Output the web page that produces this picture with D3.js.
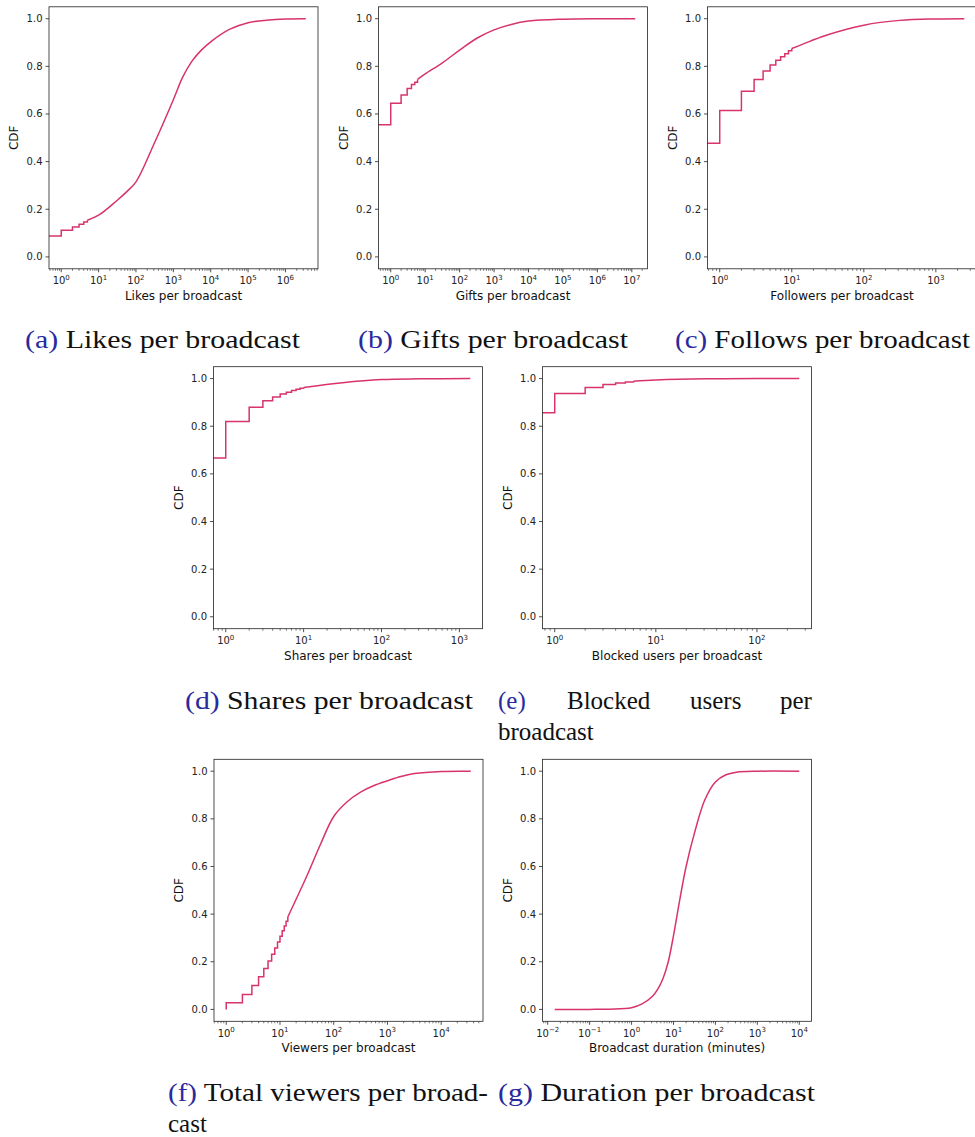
<!DOCTYPE html>
<html>
<head>
<meta charset="utf-8">
<script src="https://cdn.jsdelivr.net/npm/d3@7"></script>
<style>
body { margin: 0; background: #fff; }
svg { display: block; overflow: hidden; }
</style>
</head>
<body>
<svg width="975" height="1137"></svg>
<script>
// CDF points. x = 0 rows hold P(X = 0) (drawn from the left edge)
const likesSteps = [[0,0.088],[1,0.112],[2,0.126],[3,0.137],[4,0.147],[5,0.154]];
const likesCurve = [[5,0.154],[10,0.175],[31.6,0.238],[56,0.273],[100,0.315],[316,0.48],[1000,0.66],
  [1780,0.755],[3160,0.822],[5620,0.868],[1e4,0.903],[3.16e4,0.955],[1e5,0.983],[3.16e5,0.994],[1e6,0.999],[3.5e6,1]];

const giftsSteps = [[0,0.555],[1,0.645],[2,0.68],[3,0.707],[4,0.724],[5,0.733],[6,0.745]];
const giftsCurve = [[6,0.745],[10,0.768],[31.6,0.815],[100,0.868],[316,0.918],[1000,0.953],[3160,0.976],
  [1e4,0.99],[1e5,0.998],[1e6,1],[1.26e7,1]];

const followsSteps = [[0,0.477],[1,0.615],[2,0.695],[3,0.745],[4,0.78],[5,0.806],[6,0.826],[7,0.84],[8,0.853],[9,0.865],[10,0.875]];
const followsCurve = [[10,0.875],[17.8,0.905],[31.6,0.933],[100,0.973],[316,0.993],[1000,0.999],[2480,1]];

const sharesSteps = [[0,0.667],[1,0.82],[2,0.88],[3,0.907],[4,0.923],[5,0.935],[6,0.943],[7,0.95],[8,0.955],[9,0.96],[10,0.963]];
const sharesCurve = [[10,0.963],[31.6,0.983],[100,0.996],[316,0.999],[1380,1]];

const blockedSteps = [[0,0.857],[1,0.937],[2,0.963],[3,0.975],[4,0.982],[5,0.986],[6,0.989]];
const blockedCurve = [[6,0.989],[10,0.994],[31.6,0.999],[100,1],[262,1]];

const viewersSteps = [[1,0],[1,0.028],[2,0.062],[3,0.1],[4,0.137],[5,0.172],[6,0.203],[7,0.232],[8,0.258],
  [9,0.283],[10,0.307],[11,0.33],[12,0.35],[13,0.37],[14,0.388]];
const viewersCurve = [[14,0.388],[31.6,0.56],[56,0.69],[100,0.81],[178,0.872],[316,0.912],[562,0.94],
  [1000,0.96],[1780,0.978],[3160,0.99],[1e4,0.999],[3.55e4,1]];

const durationSteps = [];
const durationCurve = [[0.0147,0],[0.1,0],[0.3,0.001],[1,0.007],[1.78,0.023],[3.16,0.055],[4.22,0.085],
  [5.62,0.13],[7.5,0.2],[10,0.31],[14.1,0.46],[20,0.6],[31.6,0.74],[56,0.88],[100,0.955],[178,0.985],
  [316,0.996],[1000,1],[1e4,1]];

const yTicks = [0, 0.2, 0.4, 0.6, 0.8, 1.0];

// layout: one entry per subplot
const panels = [
  {steps: likesSteps,   curve: likesCurve,    xlabel: 'Likes per broadcast',          left: 49,    top: 6.8},
  {steps: giftsSteps,   curve: giftsCurve,    xlabel: 'Gifts per broadcast',          left: 378.5, top: 6.8},
  {steps: followsSteps, curve: followsCurve,  xlabel: 'Followers per broadcast',      left: 707.5, top: 6.8},
  {steps: sharesSteps,  curve: sharesCurve,   xlabel: 'Shares per broadcast',         left: 213.5, top: 366.7},
  {steps: blockedSteps, curve: blockedCurve,  xlabel: 'Blocked users per broadcast',  left: 542.5, top: 366.7},
  {steps: viewersSteps, curve: viewersCurve,  xlabel: 'Viewers per broadcast',        left: 214,   top: 759.3},
  {steps: durationSteps,curve: durationCurve, xlabel: 'Broadcast duration (minutes)', left: 542.5, top: 759.3}
];

// captions: [x, baseline, label, rest, width]
const captions = [
  [25, 348, '(a)', ' Likes per broadcast', 275],
  [358, 348, '(b)', ' Gifts per broadcast', 270],
  [675, 348, '(c)', ' Follows per broadcast', 295],
  [185, 709, '(d)', ' Shares per broadcast', 288],
  [168, 1101, '(f)', ' Total viewers per broad-', 320],
  [498, 1101, '(g)', ' Duration per broadcast', 317]
];
const plainWords = [
  [498, 709, '(e)', true], [567, 709, 'Blocked', false], [690, 709, 'users', false],
  [780, 709, 'per', false], [498, 740, 'broadcast', false], [168, 1132, 'cast', false]
];

const W = 269, H = 262;
const lineColor = '#d8336e';
const font = 'DejaVu Sans, sans-serif';
const svg = d3.select('svg');

const sup = d => d < 0 ? '\u2212' + (-d) : '' + d;

panels.forEach((p, i) => {
  const all = p.steps.concat(p.curve);
  const pos = all.map(d => d[0]).filter(v => v > 0);
  const lo = Math.log10(d3.min(pos)), hi = Math.log10(d3.max(pos));
  const m = 0.05 * (hi - lo);
  const x = d3.scaleLog().domain([10 ** (lo - m), 10 ** (hi + m)]).range([0, W]);
  const y = d3.scaleLinear().domain([-0.05, 1.05]).range([H, 0]);
  const px = v => v <= 0 ? -5 : x(v);

  const g = svg.append('g').attr('transform', `translate(${p.left},${p.top})`);
  g.append('clipPath').attr('id', 'clip' + i)
    .append('rect').attr('width', W).attr('height', H);

  const plot = g.append('g').attr('clip-path', `url(#clip${i})`);
  if (p.steps.length) {
    plot.append('path')
      .attr('d', d3.line().x(d => px(d[0])).y(d => y(d[1])).curve(d3.curveStepAfter)(p.steps.concat([p.curve[0]])))
      .attr('fill', 'none').attr('stroke', lineColor).attr('stroke-width', 1.5);
  }
  plot.append('path')
    .attr('d', d3.line().x(d => px(d[0])).y(d => y(d[1])).curve(d3.curveCatmullRom.alpha(0.5))(p.curve))
    .attr('fill', 'none').attr('stroke', lineColor).attr('stroke-width', 1.5);

  // y axis
  yTicks.forEach(t => {
    g.append('line').attr('x1', -3.5).attr('x2', 0).attr('y1', y(t)).attr('y2', y(t))
      .attr('stroke', '#222').attr('stroke-width', 0.8);
    g.append('text').attr('x', -6.5).attr('y', y(t)).attr('dy', '0.35em')
      .attr('text-anchor', 'end').attr('font-family', font).attr('font-size', 10).attr('fill', '#222')
      .text(t.toFixed(1));
  });

  // x axis: majors at decades, minors at 2..9
  const [d0, d1] = x.domain();
  const e0 = Math.floor(Math.log10(d0)), e1 = Math.ceil(Math.log10(d1));
  d3.range(e0, e1 + 1).forEach(e => {
    const major = 10 ** e;
    if (major >= d0 && major <= d1) {
      g.append('line').attr('x1', x(major)).attr('x2', x(major)).attr('y1', H).attr('y2', H + 3.5)
        .attr('stroke', '#222').attr('stroke-width', 0.8);
      const t = g.append('text').attr('x', x(major)).attr('y', H + 15.5)
        .attr('text-anchor', 'middle').attr('font-family', font).attr('font-size', 10).attr('fill', '#222');
      t.append('tspan').text('10');
      t.append('tspan').attr('dy', -4.5).attr('font-size', 7).text(sup(e));
    }
    d3.range(2, 10).forEach(k => {
      const v = k * major;
      if (v >= d0 && v <= d1) {
        g.append('line').attr('x1', x(v)).attr('x2', x(v)).attr('y1', H).attr('y2', H + 2)
          .attr('stroke', '#222').attr('stroke-width', 0.6);
      }
    });
  });

  g.append('rect').attr('width', W).attr('height', H)
    .attr('fill', 'none').attr('stroke', '#222').attr('stroke-width', 0.8);

  g.append('text').attr('x', W / 2).attr('y', H + 31)
    .attr('text-anchor', 'middle').attr('font-family', font).attr('font-size', 12).attr('fill', '#111')
    .text(p.xlabel);
  g.append('text').attr('transform', `translate(${-31},${H / 2}) rotate(-90)`)
    .attr('text-anchor', 'middle').attr('font-family', font).attr('font-size', 12).attr('fill', '#111')
    .text('CDF');
});

// sub-figure captions
const serif = 'Liberation Serif, serif';
captions.forEach(c => {
  const t = svg.append('text').attr('x', c[0]).attr('y', c[1])
    .attr('font-family', serif).attr('font-size', 25).attr('fill', '#111')
    .attr('textLength', c[4]).attr('lengthAdjust', 'spacingAndGlyphs');
  t.append('tspan').attr('fill', '#2a2a9e').text(c[2]);
  t.append('tspan').text(c[3]);
});
plainWords.forEach(w => {
  svg.append('text').attr('x', w[0]).attr('y', w[1])
    .attr('font-family', serif).attr('font-size', 25).attr('fill', w[3] ? '#2a2a9e' : '#111')
    .text(w[2]);
});
</script>
</body>
</html>
